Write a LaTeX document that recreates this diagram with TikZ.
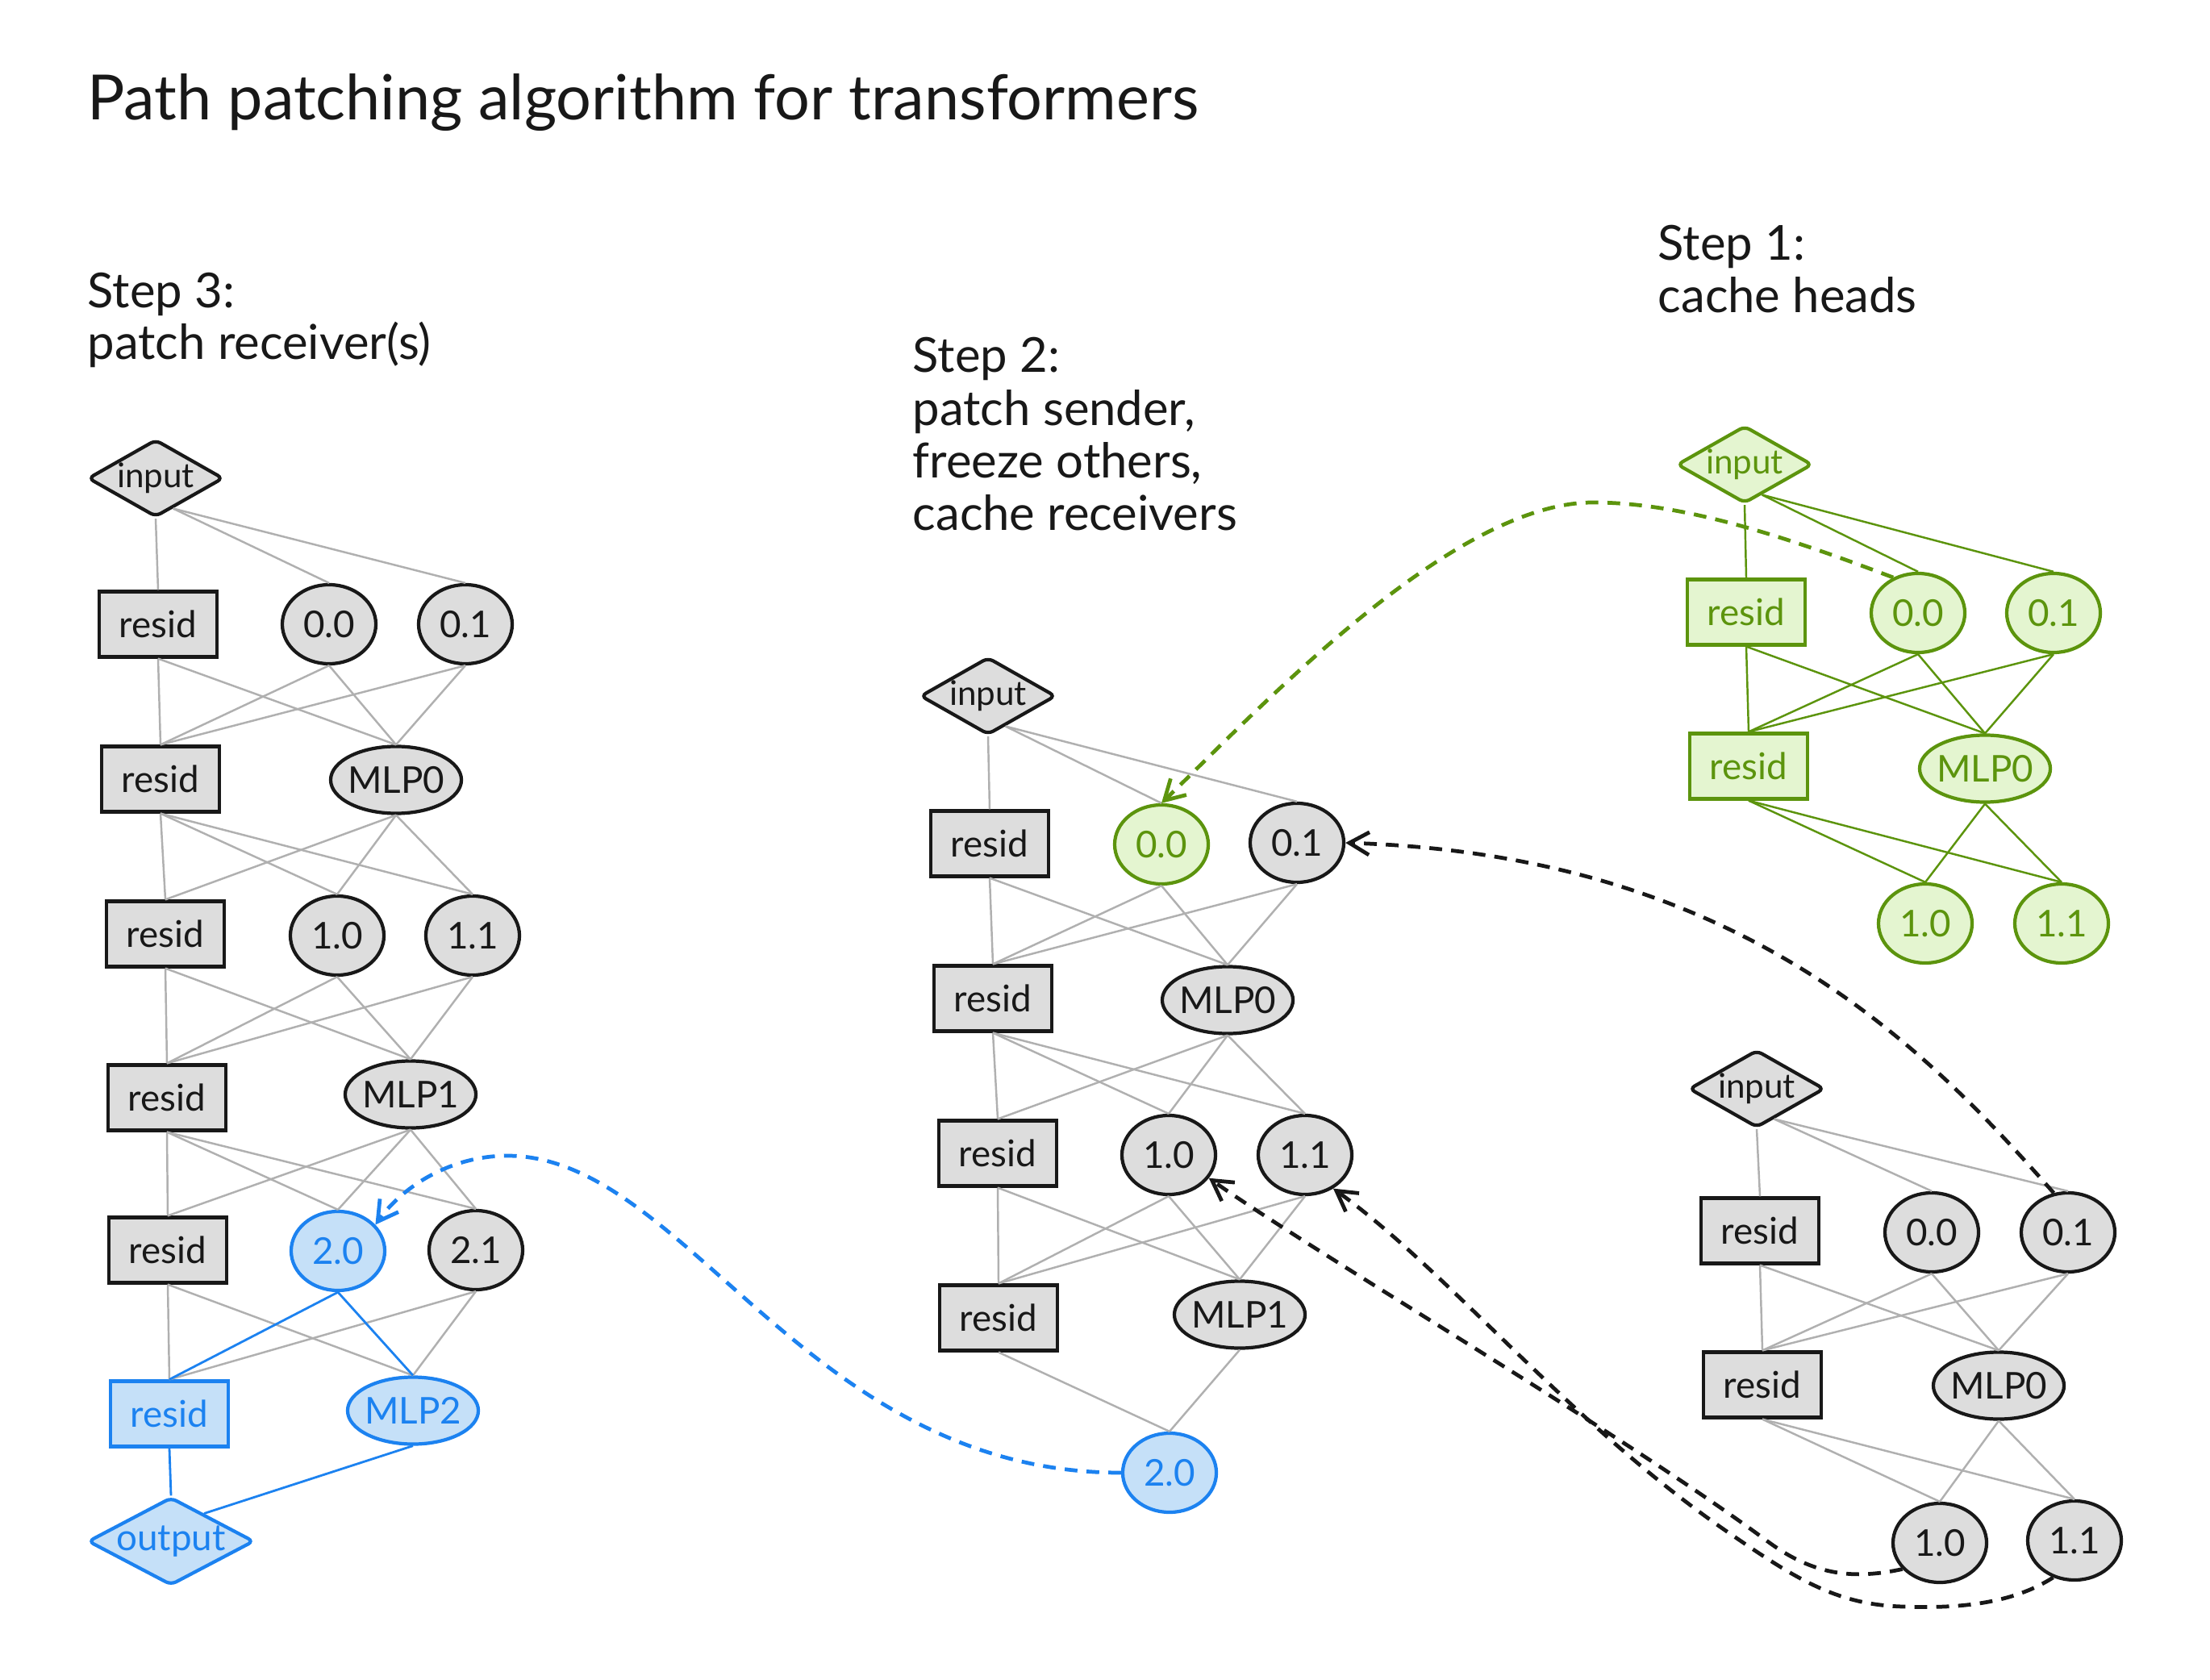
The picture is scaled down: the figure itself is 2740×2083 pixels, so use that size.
\documentclass[tikz,border=0pt]{standalone}
\usepackage{fontspec}
\setmainfont{Lato}
\usetikzlibrary{shapes.geometric,arrows.meta}
\definecolor{ngray}{RGB}{221,221,221}
\definecolor{wgray}{RGB}{176,176,176}
\definecolor{ink}{RGB}{24,24,24}
\definecolor{gstroke}{RGB}{92,148,13}
\definecolor{gfill}{RGB}{228,245,208}
\definecolor{bstroke}{RGB}{28,130,240}
\definecolor{bfill}{RGB}{197,224,248}
% zero-width label so the shapes keep their own fixed sizes
\newcommand\ntxt[1]{\makebox[0pt][c]{#1}}
\newcommand\nodefont{\fontsize{13}{15}\selectfont}
\newcommand\iofont{\fontsize{12}{14}\selectfont}
\newcommand\stepfont{\fontsize{17}{20}\selectfont}
\newcommand\titlefont{\fontsize{22}{26}\selectfont}
\begin{document}
\begin{tikzpicture}[x=0.01cm,y=-0.01cm,
  nodebase/.style={draw=ink, fill=ngray, text=ink, line width=1.2pt, inner sep=0pt, font=\nodefont},
  box/.style={nodebase, rectangle, minimum width=1.46cm, minimum height=0.81cm},
  head/.style={nodebase, ellipse, minimum width=1.16cm, minimum height=0.98cm},
  mlp/.style={nodebase, ellipse, minimum width=1.62cm, minimum height=0.83cm},
  io/.style={nodebase, diamond, rounded corners=2pt, font=\iofont, minimum width=1.68cm, minimum height=0.96cm},
  grn/.style={draw=gstroke, fill=gfill, text=gstroke},
  blu/.style={draw=bstroke, fill=bfill, text=bstroke},
  wire/.style={draw=wgray, line width=0.7pt},
  gwire/.style={draw=gstroke, line width=0.7pt},
  bwire/.style={draw=bstroke, line width=0.8pt},
  patch/.style={line width=1.35pt, dash pattern=on 4.5pt off 3.2pt, -{Straight Barb[length=7pt,width=8pt]}},
  txt/.style={anchor=base west, inner sep=0pt, text=ink}
]
\useasboundingbox (0,0) rectangle (2740,2083);
\fill[white] (0,0) rectangle (2740,2083);

% ---------- headings ----------
\node[txt, font=\titlefont] (title) at (108,149) {Path patching algorithm for transformers};
\node[txt, font=\stepfont] (s3a) at (108,382) {Step 3:};
\node[txt, font=\stepfont] (s3b) at (108,446) {patch receiver(s)};
\node[txt, font=\stepfont] (s2a) at (1131,462) {Step 2:};
\node[txt, font=\stepfont] (s2b) at (1131,528) {patch sender,};
\node[txt, font=\stepfont] (s2c) at (1131,593) {freeze others,};
\node[txt, font=\stepfont] (s2d) at (1131,658) {cache receivers};
\node[txt, font=\stepfont] (s1a) at (2055,323) {Step 1:};
\node[txt, font=\stepfont] (s1b) at (2055,388) {cache heads};

% ---------- step 3: patch receivers ----------
\node[io] (iA) at (193,593) {\ntxt{input}};
\node[box] (rA1) at (196,774) {\ntxt{resid}};
\node[head] (A00) at (408,774) {\ntxt{0.0}};
\node[head] (A01) at (577,774) {\ntxt{0.1}};
\node[box] (rA2) at (199,966) {\ntxt{resid}};
\node[mlp] (mA0) at (491,967) {\ntxt{MLP0}};
\node[box] (rA3) at (205,1158) {\ntxt{resid}};
\node[head] (A10) at (418,1160) {\ntxt{1.0}};
\node[head] (A11) at (586,1160) {\ntxt{1.1}};
\node[box] (rA4) at (207,1361) {\ntxt{resid}};
\node[mlp] (mA1) at (509,1357) {\ntxt{MLP1}};
\node[box] (rA5) at (208,1550) {\ntxt{resid}};
\node[head, blu] (A20) at (419,1551) {\ntxt{2.0}};
\node[head] (A21) at (590,1550) {\ntxt{2.1}};
\node[box, blu] (rA6) at (210,1753) {\ntxt{resid}};
\node[mlp, blu] (mA2) at (512,1749) {\ntxt{MLP2}};
\node[io, blu, font=\nodefont, minimum width=2.06cm, minimum height=1.09cm] (oA) at (212,1911) {\ntxt{output}};

\draw[wire] (iA.south) -- (rA1.north);
\foreach \t in {A00,A01} \draw[wire] (iA.-60) -- (\t.north);
\foreach \s/\t in {rA1/rA2,rA1/mA0,A00/rA2,A00/mA0,A01/rA2,A01/mA0,
                   rA2/rA3,rA2/A10,rA2/A11,mA0/rA3,mA0/A10,mA0/A11,
                   rA3/rA4,rA3/mA1,A10/rA4,A10/mA1,A11/rA4,A11/mA1,
                   rA4/rA5,rA4/A20,rA4/A21,mA1/rA5,mA1/A20,mA1/A21,
                   rA5/rA6,rA5/mA2,A21/rA6,A21/mA2}
  \draw[wire] (\s.south) -- (\t.north);
\foreach \t in {rA6,mA2} \draw[bwire] (A20.south) -- (\t.north);
\draw[bwire] (rA6.south) -- (oA.north);
\draw[bwire] (mA2.south) -- (oA.40);

% ---------- step 2: patch sender, freeze others ----------
\node[io] (iB) at (1225,863) {\ntxt{input}};
\node[box] (rB1) at (1227,1046) {\ntxt{resid}};
\node[head, grn] (B00) at (1440,1047) {\ntxt{0.0}};
\node[head] (B01) at (1608,1045) {\ntxt{0.1}};
\node[box] (rB2) at (1231,1238) {\ntxt{resid}};
\node[mlp] (mB0) at (1522,1240) {\ntxt{MLP0}};
\node[box] (rB3) at (1237,1430) {\ntxt{resid}};
\node[head] (B10) at (1449,1432) {\ntxt{1.0}};
\node[head] (B11) at (1618,1432) {\ntxt{1.1}};
\node[box] (rB4) at (1238,1634) {\ntxt{resid}};
\node[mlp] (mB1) at (1537,1630) {\ntxt{MLP1}};
\node[head, blu] (B20) at (1450,1826) {\ntxt{2.0}};

\draw[wire] (iB.south) -- (rB1.north);
\foreach \t in {B00,B01} \draw[wire] (iB.-60) -- (\t.north);
\foreach \s/\t in {rB1/rB2,rB1/mB0,B00/rB2,B00/mB0,B01/rB2,B01/mB0,
                   rB2/rB3,rB2/B10,rB2/B11,mB0/rB3,mB0/B10,mB0/B11,
                   rB3/rB4,rB3/mB1,B10/rB4,B10/mB1,B11/rB4,B11/mB1,
                   rB4/B20,mB1/B20}
  \draw[wire] (\s.south) -- (\t.north);

% ---------- step 1: cache heads ----------
\node[io, grn] (iC) at (2163,576) {\ntxt{input}};
\node[box, grn] (rC1) at (2165,759) {\ntxt{resid}};
\node[head, grn] (C00) at (2378,760) {\ntxt{0.0}};
\node[head, grn] (C01) at (2546,760) {\ntxt{0.1}};
\node[box, grn] (rC2) at (2168,950) {\ntxt{resid}};
\node[mlp, grn] (mC0) at (2461,953) {\ntxt{MLP0}};
\node[head, grn] (C10) at (2387,1145) {\ntxt{1.0}};
\node[head, grn] (C11) at (2556,1145) {\ntxt{1.1}};

\draw[gwire] (iC.south) -- (rC1.north);
\foreach \t in {C00,C01} \draw[gwire] (iC.-60) -- (\t.north);
\foreach \s/\t in {rC1/rC2,rC1/mC0,C00/rC2,C00/mC0,C01/rC2,C01/mC0,
                   rC2/C10,rC2/C11,mC0/C10,mC0/C11}
  \draw[gwire] (\s.south) -- (\t.north);

% ---------- cached receivers ----------
\node[io] (iD) at (2178,1350) {\ntxt{input}};
\node[box] (rD1) at (2182,1526) {\ntxt{resid}};
\node[head] (D00) at (2395,1528) {\ntxt{0.0}};
\node[head] (D01) at (2564,1528) {\ntxt{0.1}};
\node[box] (rD2) at (2185,1717) {\ntxt{resid}};
\node[mlp] (mD0) at (2478,1718) {\ntxt{MLP0}};
\node[head] (D10) at (2405,1913) {\ntxt{1.0}};
\node[head] (D11) at (2572,1910) {\ntxt{1.1}};

\draw[wire] (iD.south) -- (rD1.north);
\foreach \t in {D00,D01} \draw[wire] (iD.-60) -- (\t.north);
\foreach \s/\t in {rD1/rD2,rD1/mD0,D00/rD2,D00/mD0,D01/rD2,D01/mD0,
                   rD2/D10,rD2/D11,mD0/D10,mD0/D11}
  \draw[wire] (\s.south) -- (\t.north);

% ---------- patching arrows ----------
\draw[patch, gstroke] (C00.125) .. controls (2200,660) and (2080,623) .. (1975,623)
  .. controls (1800,623) and (1560,880) .. (B00.north);
\draw[patch, ink] (D01.110) .. controls (2380,1290) and (2150,1060) .. (B01.east);
\draw[patch, ink] (D10.215) .. controls (2300,1958) and (2250,1955) .. (2190,1910)
  .. controls (2000,1770) and (1640,1560) .. (B10.-30);
\draw[patch, ink] (D11.240) .. controls (2500,1985) and (2440,1995) .. (2360,1992)
  .. controls (2280,1990) and (2230,1960) .. (2150,1905)
  .. controls (1950,1770) and (1800,1580) .. (B11.-50);
\draw[patch, bstroke] (B20.west) .. controls (1000,1826) and (850,1433) .. (629,1433)
  .. controls (560,1433) and (500,1470) .. (A20.35);
\end{tikzpicture}
\end{document}
